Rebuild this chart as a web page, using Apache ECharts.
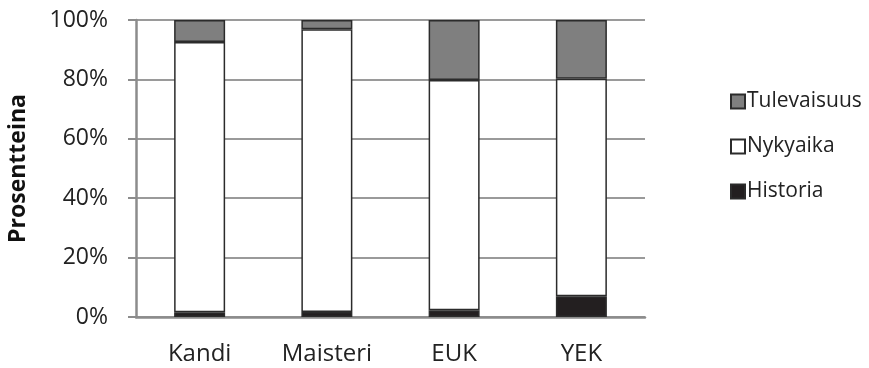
<!DOCTYPE html>
<html>
<head>
<meta charset="utf-8">
<script src="https://cdn.jsdelivr.net/npm/echarts@6/dist/echarts.min.js"></script>
<style>
  html, body { margin: 0; padding: 0; background: #fff; }
  #chart { width: 869px; height: 368px; }
</style>
</head>
<body>
<div id="chart"></div>
<script>
// Study levels on the category axis
const categories = ['Kandi', 'Maisteri', 'EUK', 'YEK'];

// Share of each time orientation, in percent (stacked to 100)
const historia    = [1.6, 1.7, 2.3, 7.0];
const nykyaika    = [91.0, 95.2, 77.5, 73.2];
const tulevaisuus = [7.4, 3.1, 20.2, 19.8];

const yTicks = [0, 20, 40, 60, 80, 100];

const FONT = '"Open Sans", "DejaVu Sans", sans-serif';
const border = { borderColor: '#2b2b2b', borderWidth: 1.5 };

const chart = echarts.init(document.getElementById('chart'));
chart.setOption({
  animation: false,
  backgroundColor: '#fff',
  grid: { left: 136, right: 224, top: 20, bottom: 51, containLabel: false, outerBoundsMode: 'none' },
  legend: {
    orient: 'vertical',
    left: 725,
    top: 86,
    itemWidth: 14,
    itemHeight: 14,
    itemGap: 24,
    icon: 'rect',
    data: ['Tulevaisuus', 'Nykyaika', 'Historia'],
    textStyle: { fontFamily: FONT, fontSize: 21, lineHeight: 21, color: '#222', padding: [0, 0, 0, -3] }
  },
  xAxis: {
    type: 'category',
    data: categories,
    axisLine: { lineStyle: { color: '#8c8c8c', width: 2.5 } },
    axisTick: { show: false },
    axisLabel: { fontFamily: FONT, fontSize: 24, color: '#222', margin: 25 }
  },
  yAxis: {
    type: 'value',
    min: yTicks[0],
    max: yTicks[yTicks.length - 1],
    interval: 20,
    name: 'Prosentteina',
    nameLocation: 'middle',
    nameGap: 106,
    nameTextStyle: { fontFamily: FONT, fontSize: 23, fontWeight: 'bold', color: '#111' },
    axisLine: { show: true, lineStyle: { color: '#8c8c8c', width: 2.5 } },
    axisTick: { show: true, length: 8, lineStyle: { color: '#8c8c8c', width: 2 } },
    axisLabel: { fontFamily: FONT, fontSize: 23, color: '#222', margin: 28, formatter: v => v + '%' },
    splitLine: { lineStyle: { color: '#9a9a9a', width: 2 } }
  },
  series: [
    {
      name: 'Historia', type: 'bar', stack: 'total', data: historia,
      barWidth: 51,
      itemStyle: Object.assign({ color: '#231f20' }, border)
    },
    {
      name: 'Nykyaika', type: 'bar', stack: 'total', data: nykyaika,
      itemStyle: Object.assign({ color: '#ffffff' }, border)
    },
    {
      name: 'Tulevaisuus', type: 'bar', stack: 'total', data: tulevaisuus,
      itemStyle: Object.assign({ color: '#7f7f7f' }, border)
    }
  ]
});
</script>
</body>
</html>
